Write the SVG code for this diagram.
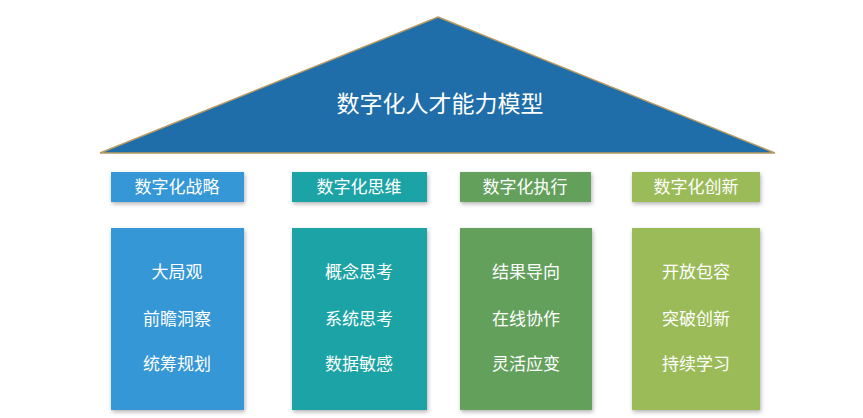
<svg xmlns="http://www.w3.org/2000/svg" width="863" height="418" viewBox="0 0 863 418">
<style>
text{font-family:"Noto Sans CJK SC","Noto Sans",sans-serif;fill:#fff;text-anchor:middle}
.h{font-size:17px}.b{font-size:17px}.t{font-size:23px}
.c1{fill:#3597d6}.c2{fill:#1aa3a6}.c3{fill:#63a05c}.c4{fill:#9bbb59}
</style>
<defs><filter id="s" x="-10%" y="-10%" width="130%" height="130%"><feDropShadow dx="1" dy="2" stdDeviation="2" flood-color="#000" flood-opacity="0.3"/></filter></defs>
<rect width="863" height="418" fill="#fff"/>
<g id="roof"><polygon points="438,17 775,153 100,153" fill="#1f6ea9" stroke="#b99a62" stroke-width="1.5"/><text class="t" x="440" y="112">数字化人才能力模型</text></g>
<g id="strategy"><rect class="c1" x="111" y="172" width="133" height="30" filter="url(#s)"/><text class="h" x="177" y="193">数字化战略</text>
<rect class="c1" x="111" y="228" width="133" height="182" filter="url(#s)"/><text class="b" x="177" y="278">大局观</text><text class="b" x="177" y="325">前瞻洞察</text><text class="b" x="177" y="370">统筹规划</text></g>
<g id="thinking"><rect class="c2" x="292" y="172" width="135" height="30" filter="url(#s)"/><text class="h" x="359" y="193">数字化思维</text>
<rect class="c2" x="292" y="228" width="135" height="182" filter="url(#s)"/><text class="b" x="359" y="278">概念思考</text><text class="b" x="359" y="325">系统思考</text><text class="b" x="359" y="370">数据敏感</text></g>
<g id="execution"><rect class="c3" x="460" y="172" width="131" height="30" filter="url(#s)"/><text class="h" x="525" y="193">数字化执行</text>
<rect class="c3" x="460" y="228" width="132" height="182" filter="url(#s)"/><text class="b" x="526" y="278">结果导向</text><text class="b" x="526" y="325">在线协作</text><text class="b" x="526" y="370">灵活应变</text></g>
<g id="innovation"><rect class="c4" x="632" y="172" width="128" height="30" filter="url(#s)"/><text class="h" x="696" y="193">数字化创新</text>
<rect class="c4" x="632" y="228" width="128" height="182" filter="url(#s)"/><text class="b" x="696" y="278">开放包容</text><text class="b" x="696" y="325">突破创新</text><text class="b" x="696" y="370">持续学习</text></g>
<g id="connectors"/>
</svg>
